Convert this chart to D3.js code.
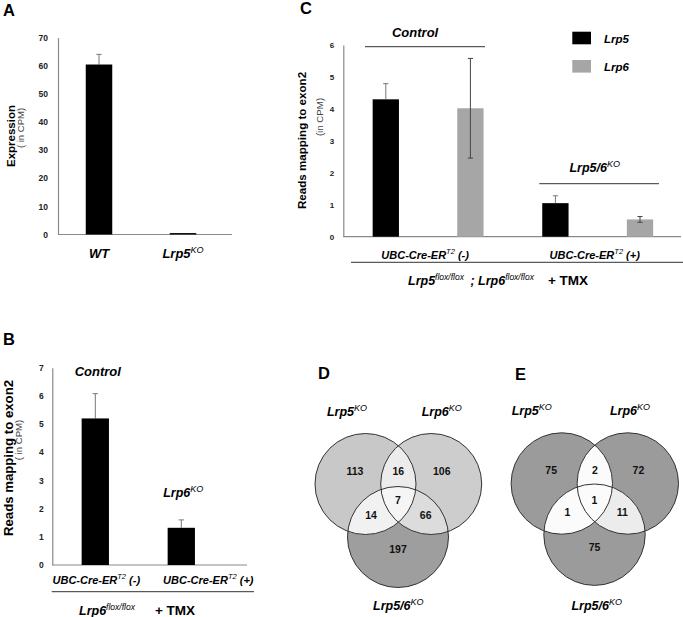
<!DOCTYPE html>
<html><head><meta charset="utf-8">
<script src="https://cdn.jsdelivr.net/npm/d3@7"></script>
<style>
body{margin:0;background:#fff}
svg{display:block}
text{font-family:"Liberation Sans",Arial,sans-serif;white-space:pre}
</style>
</head><body>
<svg id="chart" width="683" height="617"></svg>
<script>
// ---------- DATA ----------
// Panel A
const aCategories = ["WT", "Lrp5{KO}"];
const aValues = [60.4, 0.5];
const aErrors = [3.6, 0];
const aTicks = [0, 10, 20, 30, 40, 50, 60, 70];
// Panel B
const bCategories = ["UBC-Cre-ER{T2} (-)", "UBC-Cre-ER{T2} (+)"];
const bValues = [5.2, 1.32];
const bErrors = [0.88, 0.28];
const bTicks = [0, 1, 2, 3, 4, 5, 6, 7];
const bGroupLabels = ["Control", "Lrp6{KO}"];
// Panel C
const cGroups = ["UBC-Cre-ER{T2} (-)", "UBC-Cre-ER{T2} (+)"];
const cSeries = ["Lrp5", "Lrp6"];
const cLrp5 = [4.3, 1.05];
const cLrp5Err = [0.49, 0.23];
const cLrp6 = [4.02, 0.54];
const cLrp6Err = [1.56, 0.09];
const cTicks = [0, 1, 2, 3, 4, 5, 6];
const cGroupLabels = ["Control", "Lrp5/6{KO}"];
// Venn diagrams
const vennSets = ["Lrp5{KO}", "Lrp6{KO}", "Lrp5/6{KO}"];
const vennRegions = ["1", "2", "3", "12", "13", "23", "123"];
const vennDCounts = [113, 106, 197, 16, 14, 66, 7];
const vennECounts = [75, 72, 75, 2, 1, 11, 1];

// ---------- HELPERS ----------
const svg = d3.select("#chart");

function rich(parent, x, y, str, o) {
  const size = o.size || 12, sup = o.sup || size * 0.7;
  const t = parent.append("text").attr("x", x).attr("y", y)
    .attr("text-anchor", o.anchor || "middle")
    .attr("font-size", size)
    .attr("font-weight", o.bold === false ? "normal" : "bold")
    .attr("font-style", o.italic === false ? "normal" : "italic")
    .attr("fill", o.fill || "#000");
  const parts = str.split(/(\{[^}]*\})/).filter(s => s.length);
  let shifted = false;
  parts.forEach(p => {
    const ts = t.append("tspan");
    if (p[0] === "{") {
      ts.text(p.slice(1, -1)).attr("font-size", sup).attr("font-weight", "normal")
        .attr("dy", -size * 0.38);
      shifted = true;
    } else {
      ts.text(p);
      if (shifted) { ts.attr("dy", size * 0.38); shifted = false; }
    }
  });
  t.node().__shifted = shifted ? size * 0.38 : 0;
  return t;
}

function panelLetter(x, y, s) {
  svg.append("text").attr("x", x).attr("y", y).attr("font-size", 16.5)
    .attr("font-weight", "bold").text(s);
}

function yAxis(g, y, ticks, x0, pad, fs) {
  const ax = d3.axisLeft(y).tickValues(ticks).tickFormat(d3.format("d"))
    .tickSize(0).tickSizeOuter(0).tickPadding(pad);
  const a = g.append("g").attr("transform", `translate(${x0},0)`).call(ax);
  a.select(".domain").attr("stroke", "#8a8a8a").attr("stroke-width", 1.2);
  a.selectAll("text").attr("font-family", "'Liberation Sans',Arial,sans-serif")
    .attr("font-size", fs).attr("font-weight", "bold").attr("fill", "#222");
}

function errBar(g, cx, yTop, yBot, color) {
  g.append("line").attr("x1", cx).attr("x2", cx).attr("y1", yTop).attr("y2", yBot)
    .attr("stroke", color).attr("stroke-width", 1);
  g.append("line").attr("x1", cx - 2.6).attr("x2", cx + 2.6).attr("y1", yTop).attr("y2", yTop)
    .attr("stroke", color).attr("stroke-width", 1);
}

function yTitle(g, x1, cy1, x2, cy2, s1, s2, fs1, fs2) {
  g.append("text").attr("transform", `translate(${x1},${cy1}) rotate(-90)`)
    .attr("text-anchor", "middle").attr("font-size", fs1).attr("font-weight", "bold").text(s1);
  g.append("text").attr("transform", `translate(${x2},${cy2}) rotate(-90)`)
    .attr("text-anchor", "middle").attr("font-size", fs2).attr("fill", "#444").text(s2);
}

// ---------- PANEL A ----------
{
  const g = svg.append("g");
  panelLetter(3, 16, "A");
  const y = d3.scaleLinear().domain([0, 70]).range([234.5, 37.5]);
  const x = d3.scalePoint().domain(aCategories).range([57, 225]).padding(0.5);
  const bw = 26.5;
  yAxis(g, y, aTicks, 58, 10, 8.5);
  g.append("line").attr("x1", 58).attr("x2", 232).attr("y1", y(0)).attr("y2", y(0))
    .attr("stroke", "#8a8a8a").attr("stroke-width", 1.2);
  aCategories.forEach((c, i) => {
    if (aErrors[i] > 0) errBar(g, x(c), y(aValues[i] + aErrors[i]), y(aValues[i]), "#777");
    g.append("rect").attr("x", x(c) - bw / 2).attr("width", bw)
      .attr("y", y(aValues[i])).attr("height", y(0) - y(aValues[i])).attr("fill", "#000");
    rich(g, x(c), 257.5, c, { size: 13, sup: 9 });
  });
  yTitle(g, 14.5, 136, 23.5, 128, "Expression", "( in CPM)", 11.5, 9.5);
}

// ---------- PANEL B ----------
{
  const g = svg.append("g");
  panelLetter(3, 345, "B");
  const y = d3.scaleLinear().domain([0, 7]).range([565, 367.7]);
  const x = d3.scalePoint().domain(bCategories).range([52.3, 224.3]).padding(0.5);
  const bw = 27.3;
  yAxis(g, y, bTicks, 52.3, 8.5, 8.5);
  g.append("line").attr("x1", 52.3).attr("x2", 247).attr("y1", y(0)).attr("y2", y(0))
    .attr("stroke", "#8a8a8a").attr("stroke-width", 1.2);
  bCategories.forEach((c, i) => {
    errBar(g, x(c), y(bValues[i] + bErrors[i]), y(bValues[i]), "#777");
    g.append("rect").attr("x", x(c) - bw / 2).attr("width", bw)
      .attr("y", y(bValues[i])).attr("height", y(0) - y(bValues[i])).attr("fill", "#000");
    rich(g, x(c) + (i === 0 ? 1 : 27), 583.5, c, { size: 11, sup: 7.5 });
  });
  rich(g, x(bCategories[0]) + 2.5, 375.5, bGroupLabels[0], { size: 13 });
  rich(g, x(bCategories[1]) + 2, 497, bGroupLabels[1], { size: 12.5, sup: 9 });
  g.append("line").attr("x1", 51.7).attr("x2", 254).attr("y1", 591.7).attr("y2", 591.7)
    .attr("stroke", "#333").attr("stroke-width", 1);
  const t = rich(g, 79, 614.5, "Lrp6{flox/flox}", { size: 12.5, sup: 8.5, anchor: "start" });
  t.append("tspan").attr("dx", 20).attr("dy", t.node().__shifted).attr("font-style", "normal")
    .attr("font-size", 13.5).text("+ TMX");
  yTitle(g, 12.5, 458, 22, 440, "Reads mapping to exon2", "( in CPM)", 13.2, 9.6);
}

// ---------- PANEL C ----------
{
  const g = svg.append("g");
  panelLetter(300, 14, "C");
  const y = d3.scaleLinear().domain([0, 6]).range([236.7, 45]);
  const x0 = d3.scalePoint().domain(cGroups).range([343.3, 682.5]).padding(0.5);
  const x1 = d3.scalePoint().domain(cSeries).range([-42.3, 42.3]);
  const bw = 26.3;
  const colors = { Lrp5: "#000", Lrp6: "#a6a6a6" };
  const vals = { Lrp5: cLrp5, Lrp6: cLrp6 };
  const errs = { Lrp5: cLrp5Err, Lrp6: cLrp6Err };
  yAxis(g, y, cTicks, 343.3, 9, 8);
  g.append("line").attr("x1", 343.3).attr("x2", 681).attr("y1", y(0)).attr("y2", y(0))
    .attr("stroke", "#8a8a8a").attr("stroke-width", 1.2);
  cGroups.forEach((grp, gi) => {
    cSeries.forEach(s => {
      const cx = x0(grp) + x1(s), v = vals[s][gi], e = errs[s][gi];
      g.append("rect").attr("x", cx - bw / 2).attr("width", bw)
        .attr("y", y(v)).attr("height", y(0) - y(v)).attr("fill", colors[s]);
      if (s === "Lrp5") {
        errBar(g, cx, y(v + e), y(v), "#777");
      } else {
        g.append("line").attr("x1", cx).attr("x2", cx).attr("y1", y(v + e)).attr("y2", y(v - e))
          .attr("stroke", "#444").attr("stroke-width", 1);
        [v + e, v - e].forEach(w => g.append("line").attr("x1", cx - 2.6).attr("x2", cx + 2.6)
          .attr("y1", y(w)).attr("y2", y(w)).attr("stroke", "#444").attr("stroke-width", 1));
      }
    });
    rich(g, x0(grp) - 3, 258.5, grp, { size: 11, sup: 7.5 });
  });
  // group annotations
  rich(g, x0(cGroups[0]) - 13, 36.5, cGroupLabels[0], { size: 13 });
  g.append("line").attr("x1", 365).attr("x2", 485).attr("y1", 46.7).attr("y2", 46.7)
    .attr("stroke", "#333").attr("stroke-width", 1);
  rich(g, x0(cGroups[1]) - 3, 172, cGroupLabels[1], { size: 12.5, sup: 9 });
  g.append("line").attr("x1", 539.3).attr("x2", 659).attr("y1", 183.7).attr("y2", 183.7)
    .attr("stroke", "#333").attr("stroke-width", 1);
  g.append("line").attr("x1", 351).attr("x2", 683).attr("y1", 262.3).attr("y2", 262.3)
    .attr("stroke", "#333").attr("stroke-width", 1);
  // legend
  cSeries.forEach((s, i) => {
    g.append("rect").attr("x", 572.3).attr("y", 31.7 + i * 28.3).attr("width", 18.7).attr("height", 12.6)
      .attr("fill", colors[s]);
    rich(g, 604, 42.8 + i * 28.3, s, { size: 11.5, anchor: "start" });
  });
  // bottom label
  const sh = 12.5 * 0.38;
  const t = rich(g, 408, 285, "Lrp5{flox/flox}", { size: 12.5, sup: 8.5, anchor: "start" });
  t.append("tspan").attr("dx", 3).attr("dy", sh).attr("font-size", 12.5).text(" ; Lrp6");
  t.append("tspan").attr("font-size", 8.5).attr("font-weight", "normal").attr("dy", -sh).text("flox/flox");
  t.append("tspan").attr("dx", 14).attr("dy", sh).attr("font-style", "normal")
    .attr("font-size", 13.5).text("+ TMX");
  yTitle(g, 306, 140.5, 323, 117, "Reads mapping to exon2", "(in CPM)", 11.6, 9.7);
}

// ---------- VENN ----------
function venn(id, centers, r, fills, counts, labelPos) {
  const g = svg.append("g");
  const defs = g.append("defs");
  centers.forEach((c, i) => {
    defs.append("clipPath").attr("id", `${id}c${i}`)
      .append("circle").attr("cx", c[0]).attr("cy", c[1]).attr("r", r);
  });
  const circ = (p, i, fill) => p.append("circle").attr("cx", centers[i][0]).attr("cy", centers[i][1])
    .attr("r", r).attr("fill", fill);
  circ(g, 0, fills[0]); circ(g, 1, fills[1]); circ(g, 2, fills[2]);
  circ(g, 1, fills[3]).attr("clip-path", `url(#${id}c0)`);
  circ(g, 2, fills[4]).attr("clip-path", `url(#${id}c0)`);
  circ(g, 2, fills[5]).attr("clip-path", `url(#${id}c1)`);
  const inner = g.append("g").attr("clip-path", `url(#${id}c0)`);
  circ(inner, 2, fills[6]).attr("clip-path", `url(#${id}c1)`);
  centers.forEach((c, i) => circ(g, i, "none").attr("stroke", "#333").attr("stroke-width", 1));
  const [c1, c2, c3] = centers;
  const pos = {
    "1": [c1[0] - 0.21 * r, c1[1] - 0.26 * r],
    "2": [c2[0] + 0.21 * r, c2[1] - 0.26 * r],
    "3": [c3[0], c3[1] + 0.24 * r],
    "12": [(c1[0] + c2[0]) / 2, c1[1] - 0.26 * r],
    "13": [c1[0] + 0.11 * r, c3[1] - 0.44 * r],
    "23": [c2[0] - 0.11 * r, c3[1] - 0.44 * r],
    "123": [c3[0], c1[1] + 0.32 * r]
  };
  vennRegions.forEach((reg, i) => {
    g.append("text").attr("x", pos[reg][0]).attr("y", pos[reg][1] + 3.8)
      .attr("text-anchor", "middle").attr("font-size", 10.5).attr("font-weight", "bold")
      .attr("fill", "#111").text(counts[i]);
  });
  vennSets.forEach((s, i) => rich(g, labelPos[i][0], labelPos[i][1], s, { size: 12.5, sup: 9 }));
}

panelLetter(318, 379, "D");
venn("vd", [[365.5, 484], [431.2, 484], [398, 537]], 50.5,
  ["#c8c8c8", "#cdcdcd", "#9e9e9e", "#ececec", "#f1f1f1", "#dcdcdc", "#f5f5f5"],
  vennDCounts, [[347, 416], [441.7, 416], [398.3, 609.5]]);

panelLetter(515, 380, "E");
venn("ve", [[561.8, 483.5], [627.8, 483.5], [594.5, 534.7]], 50.7,
  ["#9b9b9b", "#9b9b9b", "#9b9b9b", "#fbfbfb", "#fbfbfb", "#ececec", "#fbfbfb"],
  vennECounts, [[531.7, 415], [630, 415], [596.7, 609.5]]);
</script>
</body></html>
